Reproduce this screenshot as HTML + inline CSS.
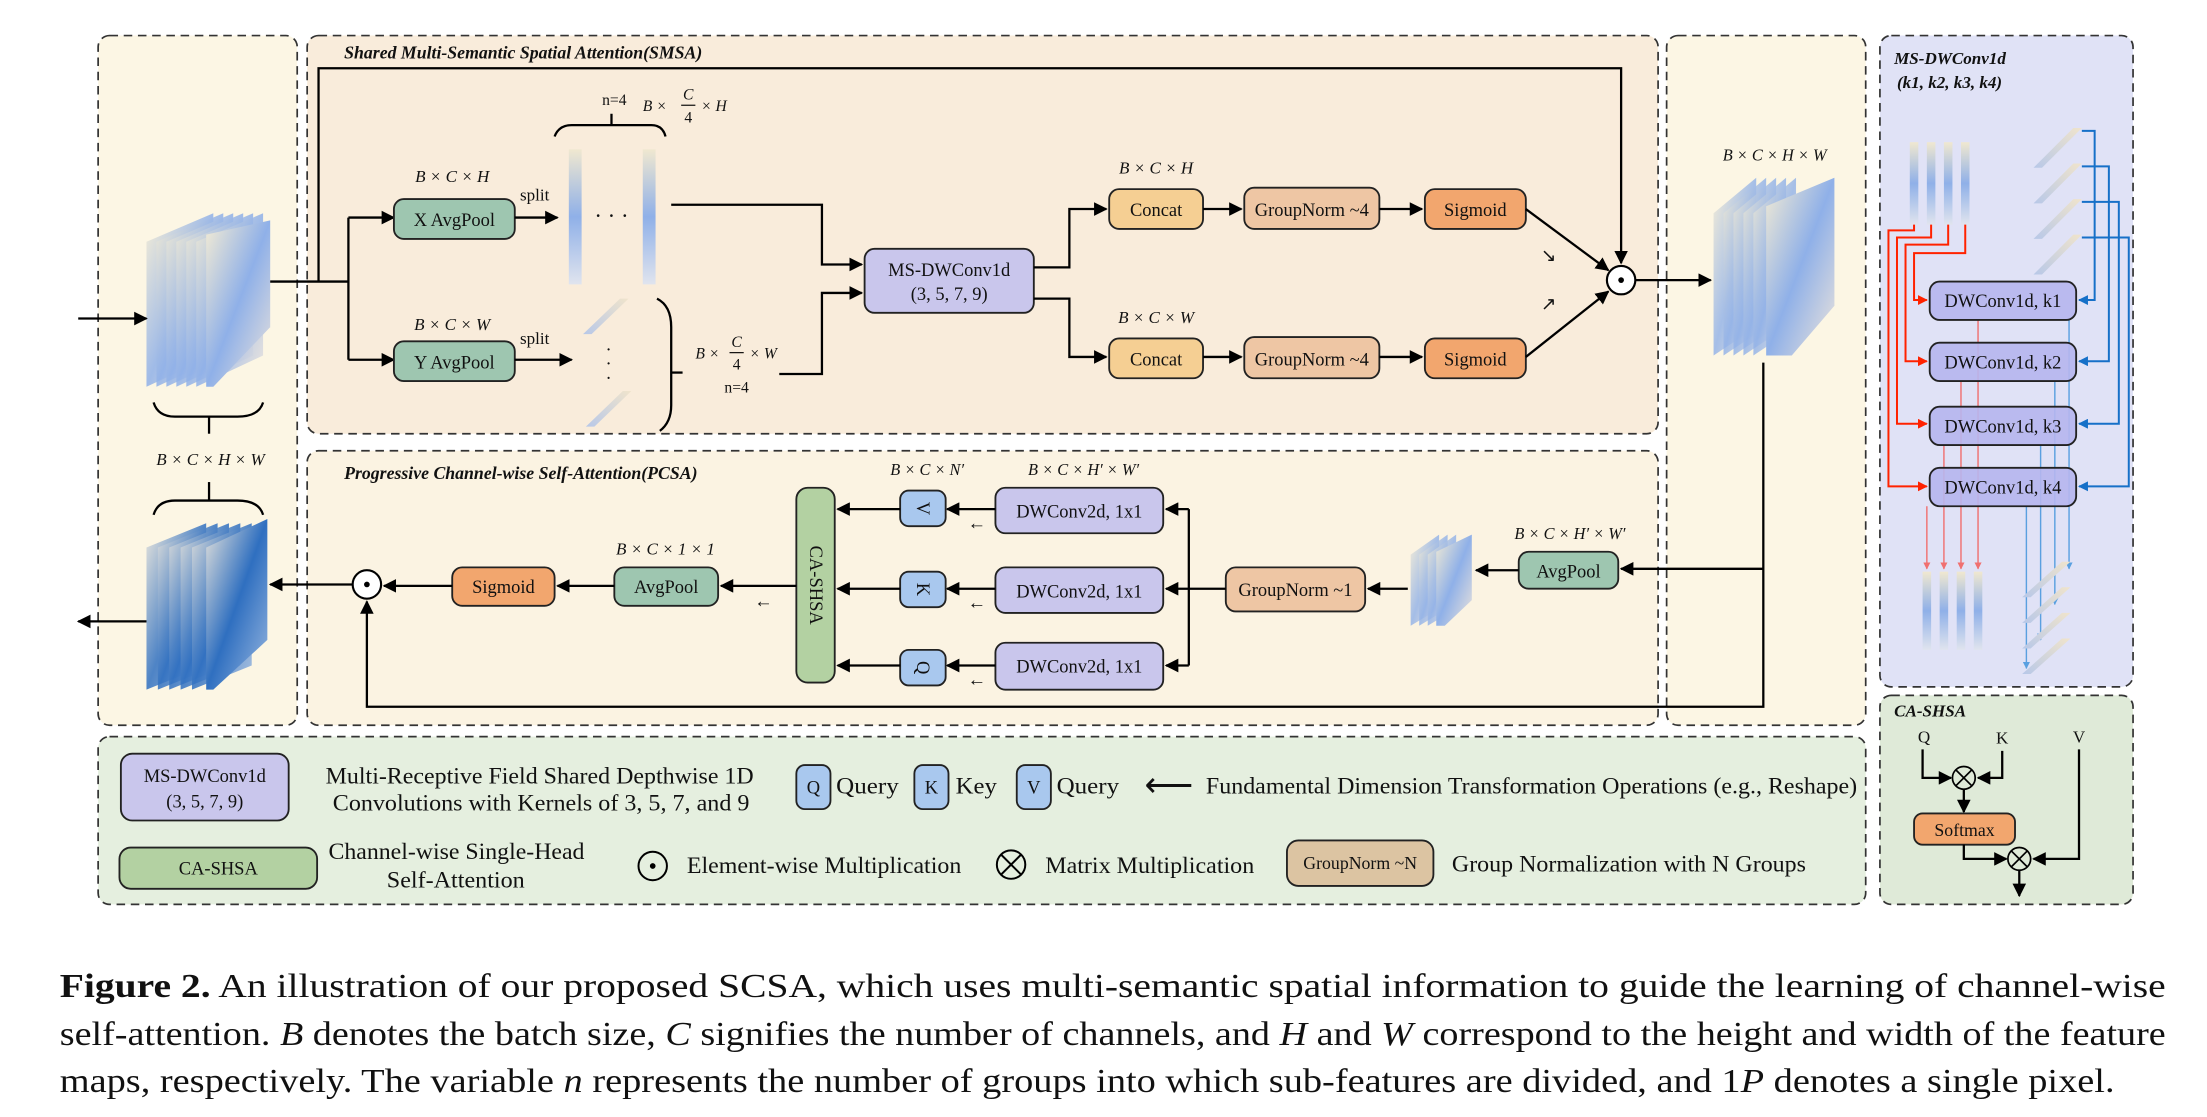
<!DOCTYPE html>
<html><head><meta charset="utf-8"><style>
html,body{margin:0;padding:0;background:#fff;}
svg{display:block;}
text{font-family:"Liberation Serif",serif;fill:#111;}
.it{font-style:italic;}
.bi{font-style:italic;font-weight:bold;}
.box{stroke:#222;stroke-width:1.3;}
.ln{stroke:#000;stroke-width:1.6;fill:none;}
.dash{stroke:#333;stroke-width:1.2;stroke-dasharray:6 4;}
</style></head><body>
<svg width="2207" height="1117" viewBox="0 0 1552 785.5" xmlns="http://www.w3.org/2000/svg">
<defs>
<marker id="a" viewBox="0 0 10 10" refX="9" refY="5" markerWidth="6" markerHeight="6" orient="auto"><path d="M0,0L10,5L0,10z" fill="#000"/></marker>
<marker id="ar" viewBox="0 0 10 10" refX="9" refY="5" markerWidth="5" markerHeight="5" orient="auto"><path d="M0,0L10,5L0,10z" fill="#f20"/></marker>
<marker id="ab" viewBox="0 0 10 10" refX="9" refY="5" markerWidth="5" markerHeight="5" orient="auto"><path d="M0,0L10,5L0,10z" fill="#1670c8"/></marker>
<marker id="arl" viewBox="0 0 10 10" refX="9" refY="5" markerWidth="5" markerHeight="5" orient="auto"><path d="M0,0L10,5L0,10z" fill="#f07070"/></marker>
<marker id="abl" viewBox="0 0 10 10" refX="9" refY="5" markerWidth="5" markerHeight="5" orient="auto"><path d="M0,0L10,5L0,10z" fill="#5aa0e0"/></marker>
<linearGradient id="g" x1="0" y1="0" x2="1" y2="1"><stop offset="0" stop-color="#f4ecd4"/><stop offset="0.5" stop-color="#8fb0e8"/><stop offset="1" stop-color="#ece4dc"/></linearGradient>
<linearGradient id="g2" x1="0" y1="0" x2="1" y2="1"><stop offset="0" stop-color="#e8e4dc"/><stop offset="0.5" stop-color="#2f6fc0"/><stop offset="1" stop-color="#9ab8e0"/></linearGradient>
<linearGradient id="gv" x1="0" y1="0" x2="0" y2="1"><stop offset="0" stop-color="#f0e8d0"/><stop offset="0.5" stop-color="#8fb0e8"/><stop offset="1" stop-color="#e0e4ee"/></linearGradient>
<linearGradient id="gs" x1="0" y1="1" x2="1" y2="0"><stop offset="0" stop-color="#b8c8e8"/><stop offset="1" stop-color="#f0e4cc"/></linearGradient>
</defs>

<!-- panels -->
<rect x="69" y="25" width="140" height="485" rx="8" fill="#fcf6e4" class="dash"/>
<rect x="216" y="25" width="950" height="280" rx="8" fill="#f9ecdb" class="dash"/>
<rect x="216" y="317" width="950" height="193" rx="8" fill="#fbf3e2" class="dash"/>
<rect x="1172" y="25" width="140" height="485" rx="8" fill="#fcf6e4" class="dash"/>
<rect x="1322" y="25" width="178" height="458" rx="8" fill="#e0e2f6" class="dash"/>
<rect x="1322" y="489" width="178" height="147" rx="8" fill="#dfead8" class="dash"/>
<rect x="69" y="518" width="1243" height="118" rx="8" fill="#e5efdf" class="dash"/>

<text x="242" y="41" class="bi" font-size="12.5">Shared Multi-Semantic Spatial Attention(SMSA)</text>
<text x="242" y="337" class="bi" font-size="12.5">Progressive Channel-wise Self-Attention(PCSA)</text>

<!-- left stacks -->
<g>
<polygon points="103,170 150,150 150,250 103,272" fill="url(#g)" opacity="0.85"/>
<polygon points="110,170 157,150 157,250 110,272" fill="url(#g)" opacity="0.85"/>
<polygon points="117,170 164,150 164,250 117,272" fill="url(#g)" opacity="0.85"/>
<polygon points="124,170 171,150 171,250 124,272" fill="url(#g)" opacity="0.85"/>
<polygon points="131,170 178,150 178,250 131,272" fill="url(#g)" opacity="0.85"/>
<polygon points="138,170 185,150 185,250 138,272" fill="url(#g)" opacity="0.85"/>
<polygon points="145,165 190,155 190,230 150,272 145,272" fill="url(#g)"/>
</g>
<path d="M108,283 q3,10 15,10 h22 M145,293 h22 q15,0 18,-10" class="ln" stroke-width="1.2"/>
<line x1="147" y1="293" x2="147" y2="305" class="ln" stroke-width="1.2"/>
<text x="148" y="327" text-anchor="middle" class="it" font-size="12">B × C × H × W</text>
<path d="M108,362 q3,-10 15,-10 h22 M145,352 h22 q15,0 18,10" class="ln" stroke-width="1.2"/>
<line x1="147" y1="339" x2="147" y2="352" class="ln" stroke-width="1.2"/>
<g>
<polygon points="103,385 145,368 145,468 103,485" fill="url(#g2)" opacity="0.85"/>
<polygon points="111,385 153,368 153,468 111,485" fill="url(#g2)" opacity="0.85"/>
<polygon points="119,385 161,368 161,468 119,485" fill="url(#g2)" opacity="0.85"/>
<polygon points="127,385 169,368 169,468 127,485" fill="url(#g2)" opacity="0.85"/>
<polygon points="135,385 177,368 177,468 135,485" fill="url(#g2)" opacity="0.85"/>
<polygon points="145,385 188,365 188,450 150,485 145,485" fill="url(#g2)"/>
</g>
<line x1="55" y1="224" x2="103" y2="224" class="ln" marker-end="url(#a)"/>
<line x1="103" y1="437" x2="55" y2="437" class="ln" marker-end="url(#a)"/>

<!-- SMSA flow -->
<path d="M190,198 H245" class="ln"/>
<path d="M224,198 V48 H1140 V185" class="ln" marker-end="url(#a)"/>
<path d="M245,153 V253" class="ln"/>
<line x1="245" y1="153" x2="277" y2="153" class="ln" marker-end="url(#a)"/>
<line x1="245" y1="253" x2="277" y2="253" class="ln" marker-end="url(#a)"/>
<rect x="277" y="140" width="85" height="28" rx="7" fill="#9ec6b0" class="box"/>
<text x="319.5" y="159" text-anchor="middle" font-size="13">X AvgPool</text>
<rect x="277" y="240" width="85" height="28" rx="7" fill="#9ec6b0" class="box"/>
<text x="319.5" y="259" text-anchor="middle" font-size="13">Y AvgPool</text>
<text x="318" y="128" text-anchor="middle" class="it" font-size="12">B × C × H</text>
<text x="318" y="232" text-anchor="middle" class="it" font-size="12">B × C × W</text>
<text x="376" y="141" text-anchor="middle" font-size="12">split</text>
<text x="376" y="242" text-anchor="middle" font-size="12">split</text>
<line x1="362" y1="153" x2="392" y2="153" class="ln" marker-end="url(#a)"/>
<line x1="362" y1="253" x2="402" y2="253" class="ln" marker-end="url(#a)"/>
<rect x="400" y="105" width="9" height="95" fill="url(#gv)"/>
<rect x="452" y="105" width="9" height="95" fill="url(#gv)"/>
<text x="430" y="157" text-anchor="middle" font-size="16">· · ·</text>
<path d="M390,96 q3,-8 12,-8 h56 q8,0 10,8" class="ln" stroke-width="1.1"/>
<line x1="430" y1="80" x2="430" y2="88" class="ln" stroke-width="1.1"/>
<text x="432" y="74" text-anchor="middle" font-size="11">n=4</text>
<text x="452" y="78" class="it" font-size="11">B ×</text>
<text x="484" y="70" text-anchor="middle" class="it" font-size="11">C</text>
<line x1="479" y1="74" x2="489" y2="74" stroke="#000" stroke-width="0.8"/>
<text x="484" y="86" text-anchor="middle" font-size="11">4</text>
<text x="493" y="78" class="it" font-size="11">× H</text>
<polygon points="410,235 436,210 442,210 416,235" fill="url(#gs)"/>
<polygon points="412,300 438,275 444,275 418,300" fill="url(#gs)"/>
<text x="428" y="250" text-anchor="middle" font-size="13">·</text>
<text x="428" y="260" text-anchor="middle" font-size="13">·</text>
<text x="428" y="270" text-anchor="middle" font-size="13">·</text>
<path d="M462,210 q10,5 10,20 v55 q0,12 -8,18" class="ln" stroke-width="1.1"/>
<line x1="472" y1="262" x2="480" y2="262" class="ln" stroke-width="1.1"/>
<text x="489" y="252" class="it" font-size="11">B ×</text>
<text x="518" y="244" text-anchor="middle" class="it" font-size="11">C</text>
<line x1="513" y1="248" x2="523" y2="248" stroke="#000" stroke-width="0.8"/>
<text x="518" y="260" text-anchor="middle" font-size="11">4</text>
<text x="527" y="252" class="it" font-size="11">× W</text>
<text x="518" y="276" text-anchor="middle" font-size="11">n=4</text>
<path d="M472,144 H578 V186 H606" class="ln" marker-end="url(#a)"/>
<path d="M548,263 H578 V206 H606" class="ln" marker-end="url(#a)"/>
<rect x="608" y="175" width="119" height="45" rx="7" fill="#c9c6ec" class="box"/>
<text x="667.5" y="194" text-anchor="middle" font-size="13">MS-DWConv1d</text>
<text x="667.5" y="211" text-anchor="middle" font-size="13">(3, 5, 7, 9)</text>
<path d="M727,188 H752 V147 H778" class="ln" marker-end="url(#a)"/>
<path d="M727,210 H752 V251 H778" class="ln" marker-end="url(#a)"/>
<text x="813" y="122" text-anchor="middle" class="it" font-size="12">B × C × H</text>
<text x="813" y="227" text-anchor="middle" class="it" font-size="12">B × C × W</text>
<rect x="780" y="133" width="66" height="28" rx="7" fill="#f5cf93" class="box"/>
<text x="813" y="152" text-anchor="middle" font-size="13">Concat</text>
<rect x="780" y="238" width="66" height="28" rx="7" fill="#f5cf93" class="box"/>
<text x="813" y="257" text-anchor="middle" font-size="13">Concat</text>
<line x1="846" y1="147" x2="873" y2="147" class="ln" marker-end="url(#a)"/>
<line x1="846" y1="251" x2="873" y2="251" class="ln" marker-end="url(#a)"/>
<rect x="875" y="132" width="95" height="29" rx="7" fill="#eec6a4" class="box"/>
<text x="922.5" y="152" text-anchor="middle" font-size="13">GroupNorm ~4</text>
<rect x="875" y="237" width="95" height="29" rx="7" fill="#eec6a4" class="box"/>
<text x="922.5" y="257" text-anchor="middle" font-size="13">GroupNorm ~4</text>
<line x1="970" y1="147" x2="1000" y2="147" class="ln" marker-end="url(#a)"/>
<line x1="970" y1="251" x2="1000" y2="251" class="ln" marker-end="url(#a)"/>
<rect x="1002" y="133" width="71" height="28" rx="7" fill="#f2a66e" class="box"/>
<text x="1037.5" y="152" text-anchor="middle" font-size="13">Sigmoid</text>
<rect x="1002" y="238" width="71" height="28" rx="7" fill="#f2a66e" class="box"/>
<text x="1037.5" y="257" text-anchor="middle" font-size="13">Sigmoid</text>
<line x1="1073" y1="147" x2="1131" y2="190" class="ln" marker-end="url(#a)"/>
<line x1="1073" y1="251" x2="1131" y2="205" class="ln" marker-end="url(#a)"/>
<text x="1089" y="184" text-anchor="middle" font-size="13">↘</text>
<text x="1089" y="218" text-anchor="middle" font-size="13">↗</text>
<circle cx="1140" cy="197" r="10" fill="#fff" stroke="#000" stroke-width="1.5"/>
<circle cx="1140" cy="197" r="2" fill="#000"/>
<line x1="1150" y1="197" x2="1203" y2="197" class="ln" marker-end="url(#a)"/>

<!-- right stack -->
<text x="1248" y="113" text-anchor="middle" class="it" font-size="11.5">B × C × H × W</text>
<g>
<polygon points="1205,150 1235,125 1235,230 1205,250" fill="url(#g)" opacity="0.8"/>
<polygon points="1212,150 1242,125 1242,230 1212,250" fill="url(#g)" opacity="0.8"/>
<polygon points="1219,150 1249,125 1249,230 1219,250" fill="url(#g)" opacity="0.8"/>
<polygon points="1226,150 1256,125 1256,230 1226,250" fill="url(#g)" opacity="0.8"/>
<polygon points="1233,150 1263,125 1263,230 1233,250" fill="url(#g)" opacity="0.8"/>
<polygon points="1242,145 1290,125 1290,215 1260,250 1242,250" fill="url(#g)"/>
</g>
<path d="M1240,255 V497 H258 V423" class="ln" marker-end="url(#a)"/>
<path d="M1240,400 H1140" class="ln" marker-end="url(#a)"/>

<!-- PCSA -->
<text x="1104" y="379" text-anchor="middle" class="it" font-size="11.5">B × C × H′ × W′</text>
<rect x="1068" y="388" width="70" height="26" rx="7" fill="#9ec6b0" class="box"/>
<text x="1103" y="406" text-anchor="middle" font-size="13">AvgPool</text>
<line x1="1068" y1="401" x2="1038" y2="401" class="ln" marker-end="url(#a)"/>
<g>
<polygon points="992,390 1012,376 1012,428 992,440" fill="url(#g)" opacity="0.8"/>
<polygon points="998,390 1018,376 1018,428 998,440" fill="url(#g)" opacity="0.8"/>
<polygon points="1004,390 1024,376 1024,428 1004,440" fill="url(#g)" opacity="0.8"/>
<polygon points="1010,388 1035,376 1035,422 1016,440 1010,440" fill="url(#g)"/>
</g>
<line x1="990" y1="414" x2="962" y2="414" class="ln" marker-end="url(#a)"/>
<rect x="862" y="399" width="98" height="31" rx="7" fill="#eec6a4" class="box"/>
<text x="911" y="419" text-anchor="middle" font-size="13">GroupNorm ~1</text>
<path d="M862,414 H836" class="ln"/>
<path d="M836,358 V468" class="ln"/>
<line x1="836" y1="358" x2="820" y2="358" class="ln" marker-end="url(#a)"/>
<line x1="836" y1="414" x2="820" y2="414" class="ln" marker-end="url(#a)"/>
<line x1="836" y1="468" x2="820" y2="468" class="ln" marker-end="url(#a)"/>
<text x="652" y="334" text-anchor="middle" class="it" font-size="11.5">B × C × N′</text>
<text x="762" y="334" text-anchor="middle" class="it" font-size="11.5">B × C × H′ × W′</text>
<rect x="700" y="343" width="118" height="32" rx="7" fill="#c9c6ec" class="box"/>
<text x="759" y="364" text-anchor="middle" font-size="13">DWConv2d, 1x1</text>
<rect x="700" y="399" width="118" height="32" rx="7" fill="#c9c6ec" class="box"/>
<text x="759" y="420" text-anchor="middle" font-size="13">DWConv2d, 1x1</text>
<rect x="700" y="452" width="118" height="33" rx="7" fill="#c9c6ec" class="box"/>
<text x="759" y="473" text-anchor="middle" font-size="13">DWConv2d, 1x1</text>
<line x1="700" y1="358" x2="666" y2="358" class="ln" marker-end="url(#a)"/>
<line x1="700" y1="414" x2="666" y2="414" class="ln" marker-end="url(#a)"/>
<line x1="700" y1="468" x2="666" y2="468" class="ln" marker-end="url(#a)"/>
<text x="687" y="372" text-anchor="middle" font-size="13">←</text>
<text x="687" y="428" text-anchor="middle" font-size="13">←</text>
<text x="687" y="482" text-anchor="middle" font-size="13">←</text>
<rect x="633" y="345" width="32" height="25" rx="6" fill="#a9c8ee" class="box"/>
<text transform="translate(649,357.5) rotate(90)" text-anchor="middle" dy="4" font-size="13">V</text>
<rect x="633" y="402" width="32" height="25" rx="6" fill="#a9c8ee" class="box"/>
<text transform="translate(649,414.5) rotate(90)" text-anchor="middle" dy="4" font-size="13">K</text>
<rect x="633" y="457" width="32" height="25" rx="6" fill="#a9c8ee" class="box"/>
<text transform="translate(649,469.5) rotate(90)" text-anchor="middle" dy="4" font-size="13">Q</text>
<line x1="633" y1="358" x2="589" y2="358" class="ln" marker-end="url(#a)"/>
<line x1="633" y1="414" x2="589" y2="414" class="ln" marker-end="url(#a)"/>
<line x1="633" y1="468" x2="589" y2="468" class="ln" marker-end="url(#a)"/>
<rect x="560" y="343" width="27" height="137" rx="8" fill="#b3d1a2" class="box"/>
<text transform="translate(573.5,411.5) rotate(90)" text-anchor="middle" dy="4" font-size="13">CA-SHSA</text>
<line x1="560" y1="412" x2="507" y2="412" class="ln" marker-end="url(#a)"/>
<text x="537" y="427" text-anchor="middle" font-size="13">←</text>
<text x="468" y="390" text-anchor="middle" class="it" font-size="12">B × C × 1 × 1</text>
<rect x="432" y="399" width="73" height="27" rx="7" fill="#9ec6b0" class="box"/>
<text x="468.5" y="417" text-anchor="middle" font-size="13">AvgPool</text>
<line x1="432" y1="412" x2="392" y2="412" class="ln" marker-end="url(#a)"/>
<rect x="318" y="399" width="72" height="27" rx="7" fill="#f2a66e" class="box"/>
<text x="354" y="417" text-anchor="middle" font-size="13">Sigmoid</text>
<line x1="318" y1="412" x2="270" y2="412" class="ln" marker-end="url(#a)"/>
<circle cx="258" cy="411" r="10" fill="#fff" stroke="#000" stroke-width="1.5"/>
<circle cx="258" cy="411" r="2" fill="#000"/>
<line x1="248" y1="411" x2="190" y2="411" class="ln" marker-end="url(#a)"/>

<!-- MS-DWConv1d panel -->
<text x="1332" y="45" class="bi" font-size="12">MS-DWConv1d</text>
<text x="1334" y="62" class="bi" font-size="12">(k1, k2, k3, k4)</text>
<rect x="1343" y="100" width="6" height="58" fill="url(#gv)"/>
<rect x="1355" y="100" width="6" height="58" fill="url(#gv)"/>
<rect x="1367" y="100" width="6" height="58" fill="url(#gv)"/>
<rect x="1379" y="100" width="6" height="58" fill="url(#gv)"/>
<polygon points="1430,118 1458,90 1464,90 1436,118" fill="url(#gs)"/>
<polygon points="1430,143 1458,115 1464,115 1436,143" fill="url(#gs)"/>
<polygon points="1430,168 1458,140 1464,140 1436,168" fill="url(#gs)"/>
<polygon points="1430,193 1458,165 1464,165 1436,193" fill="url(#gs)"/>
<g fill="none" stroke="#f20" stroke-width="1.4">
<path d="M1346,158 V162 H1328 V342 H1355" marker-end="url(#ar)"/>
<path d="M1358,158 V167 H1334 V298 H1355" marker-end="url(#ar)"/>
<path d="M1370,158 V172 H1340 V254 H1355" marker-end="url(#ar)"/>
<path d="M1382,158 V178 H1346 V211 H1355" marker-end="url(#ar)"/>
</g>
<g fill="none" stroke="#1670c8" stroke-width="1.4">
<path d="M1464,92 H1473 V211 H1462" marker-end="url(#ab)"/>
<path d="M1464,117 H1483 V254 H1462" marker-end="url(#ab)"/>
<path d="M1464,142 H1490 V298 H1462" marker-end="url(#ab)"/>
<path d="M1464,167 H1497 V342 H1462" marker-end="url(#ab)"/>
</g>
<g stroke="#f07070" stroke-width="1">
<line x1="1355" y1="356" x2="1355" y2="400" marker-end="url(#arl)"/>
<line x1="1367" y1="313" x2="1367" y2="400" marker-end="url(#arl)"/>
<line x1="1379" y1="268" x2="1379" y2="400" marker-end="url(#arl)"/>
<line x1="1391" y1="225" x2="1391" y2="400" marker-end="url(#arl)"/>
</g>
<g stroke="#5aa0e0" stroke-width="1">
<line x1="1425" y1="356" x2="1425" y2="470" marker-end="url(#abl)"/>
<line x1="1435" y1="313" x2="1435" y2="450" marker-end="url(#abl)"/>
<line x1="1445" y1="268" x2="1445" y2="425" marker-end="url(#abl)"/>
<line x1="1455" y1="225" x2="1455" y2="400" marker-end="url(#abl)"/>
</g>
<rect x="1357" y="198" width="103" height="27" rx="7" fill="#b6b6ee" fill-opacity="0.9" class="box"/>
<text x="1408.5" y="216" text-anchor="middle" font-size="13">DWConv1d, k1</text>
<rect x="1357" y="241" width="103" height="27" rx="7" fill="#b6b6ee" fill-opacity="0.9" class="box"/>
<text x="1408.5" y="259" text-anchor="middle" font-size="13">DWConv1d, k2</text>
<rect x="1357" y="286" width="103" height="27" rx="7" fill="#b6b6ee" fill-opacity="0.9" class="box"/>
<text x="1408.5" y="304" text-anchor="middle" font-size="13">DWConv1d, k3</text>
<rect x="1357" y="329" width="103" height="27" rx="7" fill="#b6b6ee" fill-opacity="0.9" class="box"/>
<text x="1408.5" y="347" text-anchor="middle" font-size="13">DWConv1d, k4</text>
<rect x="1352" y="402" width="6" height="55" fill="url(#gv)"/>
<rect x="1364" y="402" width="6" height="55" fill="url(#gv)"/>
<rect x="1376" y="402" width="6" height="55" fill="url(#gv)"/>
<rect x="1388" y="402" width="6" height="55" fill="url(#gv)"/>
<polygon points="1422,420 1450,395 1456,395 1428,420" fill="url(#gs)"/>
<polygon points="1422,438 1450,413 1456,413 1428,438" fill="url(#gs)"/>
<polygon points="1422,456 1450,431 1456,431 1428,456" fill="url(#gs)"/>
<polygon points="1422,474 1450,449 1456,449 1428,474" fill="url(#gs)"/>

<!-- CA-SHSA panel -->
<text x="1332" y="504" class="bi" font-size="12">CA-SHSA</text>
<text x="1353" y="522" text-anchor="middle" font-size="12">Q</text>
<text x="1408" y="523" text-anchor="middle" font-size="12">K</text>
<text x="1462" y="522" text-anchor="middle" font-size="12">V</text>
<path d="M1352,527 V547 H1372" class="ln" stroke-width="1.2" marker-end="url(#a)"/>
<path d="M1408,528 V547 H1391" class="ln" stroke-width="1.2" marker-end="url(#a)"/>
<circle cx="1381" cy="547" r="8" fill="none" stroke="#000" stroke-width="1.2"/>
<path d="M1375.3,541.3l11.4,11.4M1386.7,541.3l-11.4,11.4" stroke="#000" stroke-width="1.2"/>
<line x1="1381" y1="555" x2="1381" y2="571" class="ln" stroke-width="1.2" marker-end="url(#a)"/>
<rect x="1346" y="572" width="71" height="22" rx="6" fill="#f2a66e" class="box"/>
<text x="1381.5" y="588" text-anchor="middle" font-size="12.5">Softmax</text>
<path d="M1381,594 V604 H1411" class="ln" stroke-width="1.2" marker-end="url(#a)"/>
<path d="M1462,527 V604 H1430" class="ln" stroke-width="1.2" marker-end="url(#a)"/>
<circle cx="1420" cy="604" r="8" fill="none" stroke="#000" stroke-width="1.2"/>
<path d="M1414.3,598.3l11.4,11.4M1425.7,598.3l-11.4,11.4" stroke="#000" stroke-width="1.2"/>
<line x1="1420" y1="612" x2="1420" y2="630" class="ln" stroke-width="1.2" marker-end="url(#a)"/>

<!-- legend -->
<rect x="85" y="530" width="118" height="47" rx="8" fill="#c9c6ec" class="box"/>
<text x="144" y="550" text-anchor="middle" font-size="13">MS-DWConv1d</text>
<text x="144" y="568" text-anchor="middle" font-size="13">(3, 5, 7, 9)</text>
<text x="229" y="551" font-size="16" textLength="301" lengthAdjust="spacingAndGlyphs">Multi-Receptive Field Shared Depthwise 1D</text>
<text x="234" y="570" font-size="16" textLength="293" lengthAdjust="spacingAndGlyphs">Convolutions with Kernels of 3, 5, 7, and 9</text>
<rect x="560" y="538" width="24" height="31" rx="6" fill="#a9c8ee" class="box"/>
<text x="572" y="558" text-anchor="middle" font-size="13">Q</text>
<text x="588" y="558" font-size="16" textLength="44" lengthAdjust="spacingAndGlyphs">Query</text>
<rect x="643" y="538" width="24" height="31" rx="6" fill="#a9c8ee" class="box"/>
<text x="655" y="558" text-anchor="middle" font-size="13">K</text>
<text x="672" y="558" font-size="16" textLength="29" lengthAdjust="spacingAndGlyphs">Key</text>
<rect x="715" y="538" width="24" height="31" rx="6" fill="#a9c8ee" class="box"/>
<text x="727" y="558" text-anchor="middle" font-size="13">V</text>
<text x="743" y="558" font-size="16" textLength="44" lengthAdjust="spacingAndGlyphs">Query</text>
<text x="822" y="560" text-anchor="middle" font-size="24">⟵</text>
<text x="848" y="558" font-size="16" textLength="458" lengthAdjust="spacingAndGlyphs">Fundamental Dimension Transformation Operations (e.g., Reshape)</text>
<rect x="84" y="596" width="139" height="29" rx="8" fill="#b3d1a2" class="box"/>
<text x="153.5" y="615" text-anchor="middle" font-size="13">CA-SHSA</text>
<text x="231" y="604" font-size="16" textLength="180" lengthAdjust="spacingAndGlyphs">Channel-wise Single-Head</text>
<text x="272" y="624" font-size="16" textLength="97" lengthAdjust="spacingAndGlyphs">Self-Attention</text>
<circle cx="459" cy="609" r="10" fill="none" stroke="#000" stroke-width="1.4"/>
<circle cx="459" cy="609" r="2" fill="#000"/>
<text x="483" y="614" font-size="16" textLength="193" lengthAdjust="spacingAndGlyphs">Element-wise Multiplication</text>
<circle cx="711" cy="608" r="10" fill="none" stroke="#000" stroke-width="1.4"/>
<path d="M703.9,600.9l14.2,14.2M718.1,600.9l-14.2,14.2" stroke="#000" stroke-width="1.4"/>
<text x="735" y="614" font-size="16" textLength="147" lengthAdjust="spacingAndGlyphs">Matrix Multiplication</text>
<rect x="905" y="591" width="103" height="32" rx="8" fill="#dcc4a2" class="box"/>
<text x="956.5" y="611" text-anchor="middle" font-size="12.5">GroupNorm ~N</text>
<text x="1021" y="613" font-size="16" textLength="249" lengthAdjust="spacingAndGlyphs">Group Normalization with N Groups</text>

<!-- caption -->
<text x="42" y="701" font-size="24" textLength="1481" lengthAdjust="spacingAndGlyphs"><tspan font-weight="bold">Figure 2.</tspan> An illustration of our proposed SCSA, which uses multi-semantic spatial information to guide the learning of channel-wise</text>
<text x="42" y="735" font-size="24" textLength="1481" lengthAdjust="spacingAndGlyphs">self-attention. <tspan font-style="italic">B</tspan> denotes the batch size, <tspan font-style="italic">C</tspan> signifies the number of channels, and <tspan font-style="italic">H</tspan> and <tspan font-style="italic">W</tspan> correspond to the height and width of the feature</text>
<text x="42" y="768" font-size="24" textLength="1445" lengthAdjust="spacingAndGlyphs">maps, respectively. The variable <tspan font-style="italic">n</tspan> represents the number of groups into which sub-features are divided, and 1<tspan font-style="italic">P</tspan> denotes a single pixel.</text>
</svg>
</body></html>
